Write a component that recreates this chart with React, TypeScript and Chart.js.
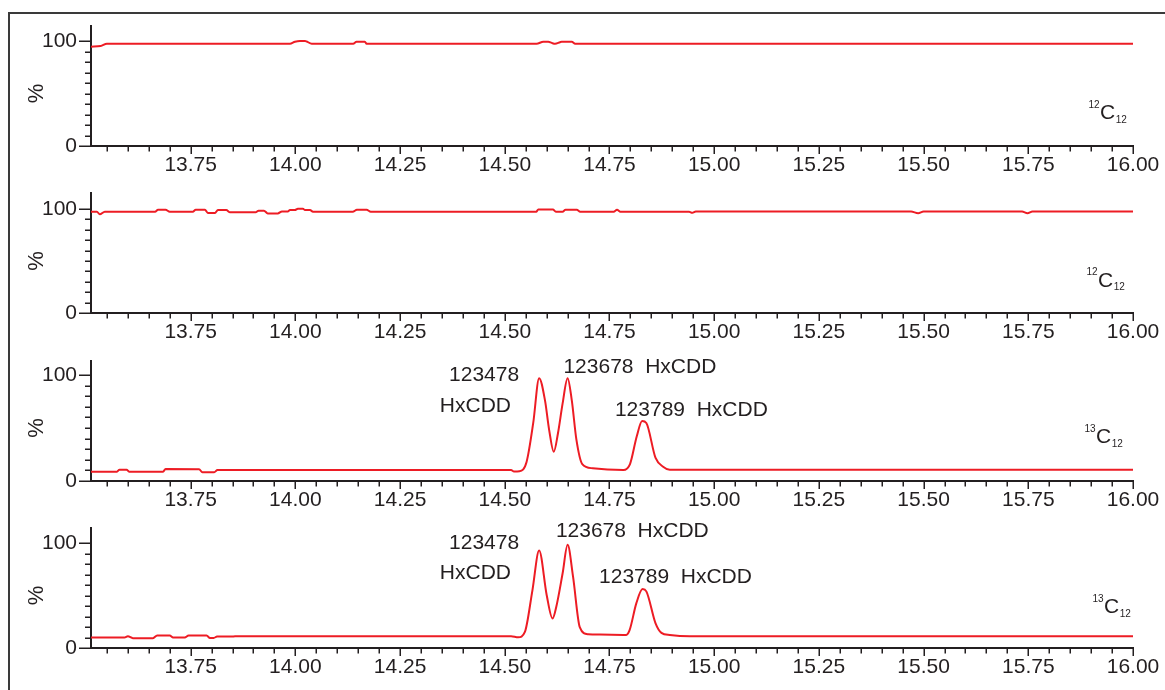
import React, { useEffect, useRef } from 'react';
import { Chart, registerables } from 'chart.js';

Chart.register(...registerables);

// ---------- data ----------
const X_MIN = 13.512;
const X_MAX = 16.0;
const xTickStep = 0.05;
const xLabelStep = 0.25;
const yTickStep = 10;
const yLabelValues = [0, 100];

// panel 1 (12C12)
const times1 = [13.512, 13.535, 13.55, 13.987, 13.999, 14.011, 14.023, 14.027, 14.039, 14.138, 14.146, 14.166, 14.17,
  14.576, 14.592, 14.604, 14.612, 14.62, 14.632, 14.636, 14.66, 14.668, 16.0];
const pct1 = [94.6, 95.2, 97.4, 97.4, 99.3, 100, 100, 99.5, 97.4, 97.4, 99.3, 99.3, 97.4,
  97.4, 99.3, 99.3, 98.2, 97.4, 98.9, 99.3, 99.3, 97.4, 97.4];

// panel 2 (12C12)
const times2 = [13.512, 13.526, 13.533, 13.545, 13.665, 13.672, 13.69, 13.7, 13.755, 13.762, 13.784, 13.791, 13.808,
  13.815, 13.835, 13.844, 13.905, 13.912, 13.925, 13.934, 13.958, 13.968, 13.982, 13.987, 13.999, 14.006, 14.018,
  14.023, 14.035, 14.042, 14.137, 14.147, 14.17, 14.18, 14.575, 14.58, 14.615, 14.622, 14.638, 14.645, 14.672,
  14.68, 14.76, 14.768, 14.776, 14.94, 14.948, 14.956, 15.47, 15.487, 15.5, 15.735, 15.748, 15.76, 16.0];
const pct2 = [97.4, 97.4, 94.9, 97.4, 97.4, 99.3, 99.3, 97.4, 97.4, 99.3, 99.3, 96.2, 96.2,
  99.0, 99.0, 96.8, 96.8, 98.4, 98.4, 95.8, 95.8, 97.7, 97.7, 99.0, 99.0, 100.3, 100.3,
  99.0, 99.0, 97.4, 97.4, 99.3, 99.3, 97.4, 97.4, 99.5, 99.5, 97.4, 97.4, 99.2, 99.2,
  97.4, 97.4, 99.2, 97.4, 97.4, 96.3, 97.6, 97.6, 96.0, 97.6, 97.6, 96.0, 97.6, 97.6];

// panel 3 (13C12)
const times3 = [13.512, 13.574, 13.58, 13.597, 13.603, 13.684, 13.69, 13.77, 13.778, 13.806, 13.814,
  14.515, 14.522, 14.535, 14.552, 14.568, 14.582, 14.596, 14.606, 14.617, 14.627, 14.638, 14.65, 14.66,
  14.671, 14.685, 14.71, 14.783, 14.799, 14.815, 14.828, 14.838, 14.86, 14.878, 14.894, 16.0];
const pct3 = [8.8, 8.8, 10.7, 10.7, 8.8, 8.8, 11.3, 11.1, 8.2, 8.2, 10.4,
  10.4, 9.0, 9.2, 18, 55, 97, 76, 48, 27.6, 45, 73, 97, 76,
  39, 16, 12, 10.4, 16, 42, 56.6, 54.7, 21.7, 13.5, 10.6, 10.6];

// panel 4 (13C12)
const times4 = [13.512, 13.592, 13.6, 13.612, 13.66, 13.67, 13.7, 13.708, 13.736, 13.745, 13.788, 13.796, 13.805,
  13.813, 13.848, 13.856, 14.515, 14.532, 14.548, 14.566, 14.582, 14.6, 14.614, 14.623, 14.638, 14.65, 14.663,
  14.679, 14.699, 14.727, 14.79, 14.798, 14.814, 14.829, 14.838, 14.86, 14.874, 14.894, 14.942, 16.0];
const pct4 = [9.9, 9.9, 11.2, 9.4, 9.4, 11.9, 11.9, 10.0, 10.0, 11.9, 11.9, 9.6, 9.6,
  10.9, 10.9, 11.2, 11.2, 10.2, 15.3, 55, 92.9, 50.5, 28.1, 39.3, 71, 98.4, 68,
  20, 13.1, 12.8, 12.5, 17, 42.5, 56.2, 54, 23.4, 14.4, 12.4, 11.2, 11.2];

const panelTimes = [times1, times2, times3, times4];
const panelPct = [pct1, pct2, pct3, pct4];
const panelYMax = [114.3, 115.4, 113.2, 114.4];
const isotopeMass = ['12', '12', '13', '13'];
const isotopeCount = '12';

const peakLabels = ['123478', 'HxCDD', '123678  HxCDD', '123789  HxCDD'];
const peakLabelTimes3 = [14.367, 14.345, 14.64, 14.763];
const peakLabelPct3 = [94.6, 65.4, 102.2, 61.3];
const peakLabelTimes4 = [14.367, 14.345, 14.622, 14.725];
const peakLabelPct4 = [94.1, 65.8, 105.5, 61.7];

// ---------- style ----------
const RED = '#ed1c24';
const INK = '#231f20';
const FONT = '"Liberation Sans", Arial, Helvetica, sans-serif';
const W = 1165;
const H = 180;
const panelTop = [0, 167, 335, 502];
// label position of "C" relative to chart area right / bottom
const isoOffset = [
  [-33, -27],
  [-35, -26.5],
  [-37, -38],
  [-29, -35],
];

const isMajorX = (v: number) => Math.abs(v / xLabelStep - Math.round(v / xLabelStep)) < 1e-6;

function Panel({ index }: { index: number }) {
  const ref = useRef<HTMLCanvasElement | null>(null);
  useEffect(() => {
    const canvas = ref.current;
    if (!canvas) return;
    const times = panelTimes[index];
    const vals = panelPct[index];
    const labelTimes = index === 2 ? peakLabelTimes3 : index === 3 ? peakLabelTimes4 : [];
    const labelPct = index === 2 ? peakLabelPct3 : index === 3 ? peakLabelPct4 : [];

    const decor = {
      id: 'decor',
      afterDraw(chart: any) {
        const ctx = chart.ctx;
        const xs = chart.scales.x;
        const ys = chart.scales.y;
        const { left, right, bottom } = chart.chartArea;
        ctx.save();
        ctx.strokeStyle = INK;
        ctx.lineWidth = 1.5;
        xs.ticks.forEach((t: any) => {
          const px = Math.round(xs.getPixelForValue(t.value)) + 0.25;
          const len = isMajorX(t.value) ? 8 : 5.5;
          ctx.beginPath();
          ctx.moveTo(px, bottom);
          ctx.lineTo(px, bottom + len);
          ctx.stroke();
        });
        ys.ticks.forEach((t: any) => {
          if (t.value > 100.001) return;
          const py = Math.round(ys.getPixelForValue(t.value)) + 0.25;
          const len = yLabelValues.includes(t.value) ? 12 : 6;
          ctx.beginPath();
          ctx.moveTo(left - len, py);
          ctx.lineTo(left, py);
          ctx.stroke();
        });
        // % label
        ctx.fillStyle = INK;
        ctx.save();
        ctx.translate(left - 54, ys.getPixelForValue(50));
        ctx.rotate(-Math.PI / 2);
        ctx.font = `22px ${FONT}`;
        ctx.textAlign = 'center';
        ctx.textBaseline = 'middle';
        ctx.fillText('%', 0, 0);
        ctx.restore();
        // isotope label
        const cx = right + isoOffset[index][0];
        const cy = bottom + isoOffset[index][1];
        ctx.textBaseline = 'alphabetic';
        ctx.font = `21px ${FONT}`;
        ctx.textAlign = 'left';
        ctx.fillText('C', cx, cy);
        const cw = ctx.measureText('C').width;
        ctx.font = `10px ${FONT}`;
        ctx.textAlign = 'right';
        ctx.fillText(isotopeMass[index], cx - 0.5, cy - 11.5);
        ctx.textAlign = 'left';
        ctx.fillText(isotopeCount, cx + cw + 0.5, cy + 3.5);
        // peak labels
        ctx.font = `21px ${FONT}`;
        for (let i = 0; i < labelTimes.length; i++) {
          ctx.fillText(peakLabels[i], xs.getPixelForValue(labelTimes[i]), ys.getPixelForValue(labelPct[i]));
        }
        ctx.restore();
      },
    };

    const chart = new Chart(canvas, {
      type: 'line',
      data: {
        datasets: [
          {
            data: times.map((t, i) => ({ x: t, y: vals[i] })),
            borderColor: RED,
            borderWidth: 2,
            pointRadius: 0,
            fill: false,
            cubicInterpolationMode: 'monotone',
          },
        ],
      },
      options: {
        animation: false,
        responsive: false,
        devicePixelRatio: 1,
        events: [],
        layout: { padding: { top: 26, right: 32, left: 0, bottom: 0 } },
        plugins: { legend: { display: false }, tooltip: { enabled: false } },
        scales: {
          x: {
            type: 'linear',
            min: X_MIN,
            max: X_MAX,
            afterFit: (s: any) => {
              s.height = 34;
            },
            ticks: {
              stepSize: xTickStep,
              includeBounds: false,
              autoSkip: false,
              maxRotation: 0,
              minRotation: 0,
              padding: 2,
              color: INK,
              font: { family: FONT, size: 21, lineHeight: 1 },
              callback: (v: any) => (isMajorX(Number(v)) ? Number(v).toFixed(2) : ''),
            },
            grid: { display: true, drawOnChartArea: false, drawTicks: true, tickLength: 7, color: 'rgba(0,0,0,0)' },
            border: { display: true, color: INK, width: 2 },
          },
          y: {
            type: 'linear',
            min: 0,
            max: panelYMax[index],
            afterFit: (s: any) => {
              s.width = 91;
            },
            ticks: {
              stepSize: yTickStep,
              includeBounds: false,
              autoSkip: false,
              padding: 2,
              color: INK,
              font: { family: FONT, size: 21, lineHeight: 1 },
              callback: (v: any) => (yLabelValues.includes(Number(v)) ? String(v) : ''),
            },
            grid: { display: true, drawOnChartArea: false, drawTicks: true, tickLength: 12, color: 'rgba(0,0,0,0)' },
            border: { display: true, color: INK, width: 2 },
          },
        },
      } as any,
      plugins: [decor],
    });
    return () => chart.destroy();
  }, [index]);

  return (
    <canvas
      ref={ref}
      width={W}
      height={H}
      style={{ position: 'absolute', left: 0, top: panelTop[index], width: W, height: H, display: 'block' }}
    />
  );
}

export default function App() {
  return (
    <div
      style={{
        position: 'absolute',
        left: 0,
        top: 0,
        width: W,
        height: 690,
        overflow: 'hidden',
        background: '#ffffff',
      }}
    >
      <div
        style={{
          position: 'absolute',
          left: 8,
          top: 12,
          width: 1300,
          height: 800,
          borderLeft: `2px solid #3a3a3a`,
          borderTop: `2px solid #3a3a3a`,
          boxSizing: 'border-box',
        }}
      />
      {[0, 1, 2, 3].map((i) => (
        <Panel key={i} index={i} />
      ))}
    </div>
  );
}
